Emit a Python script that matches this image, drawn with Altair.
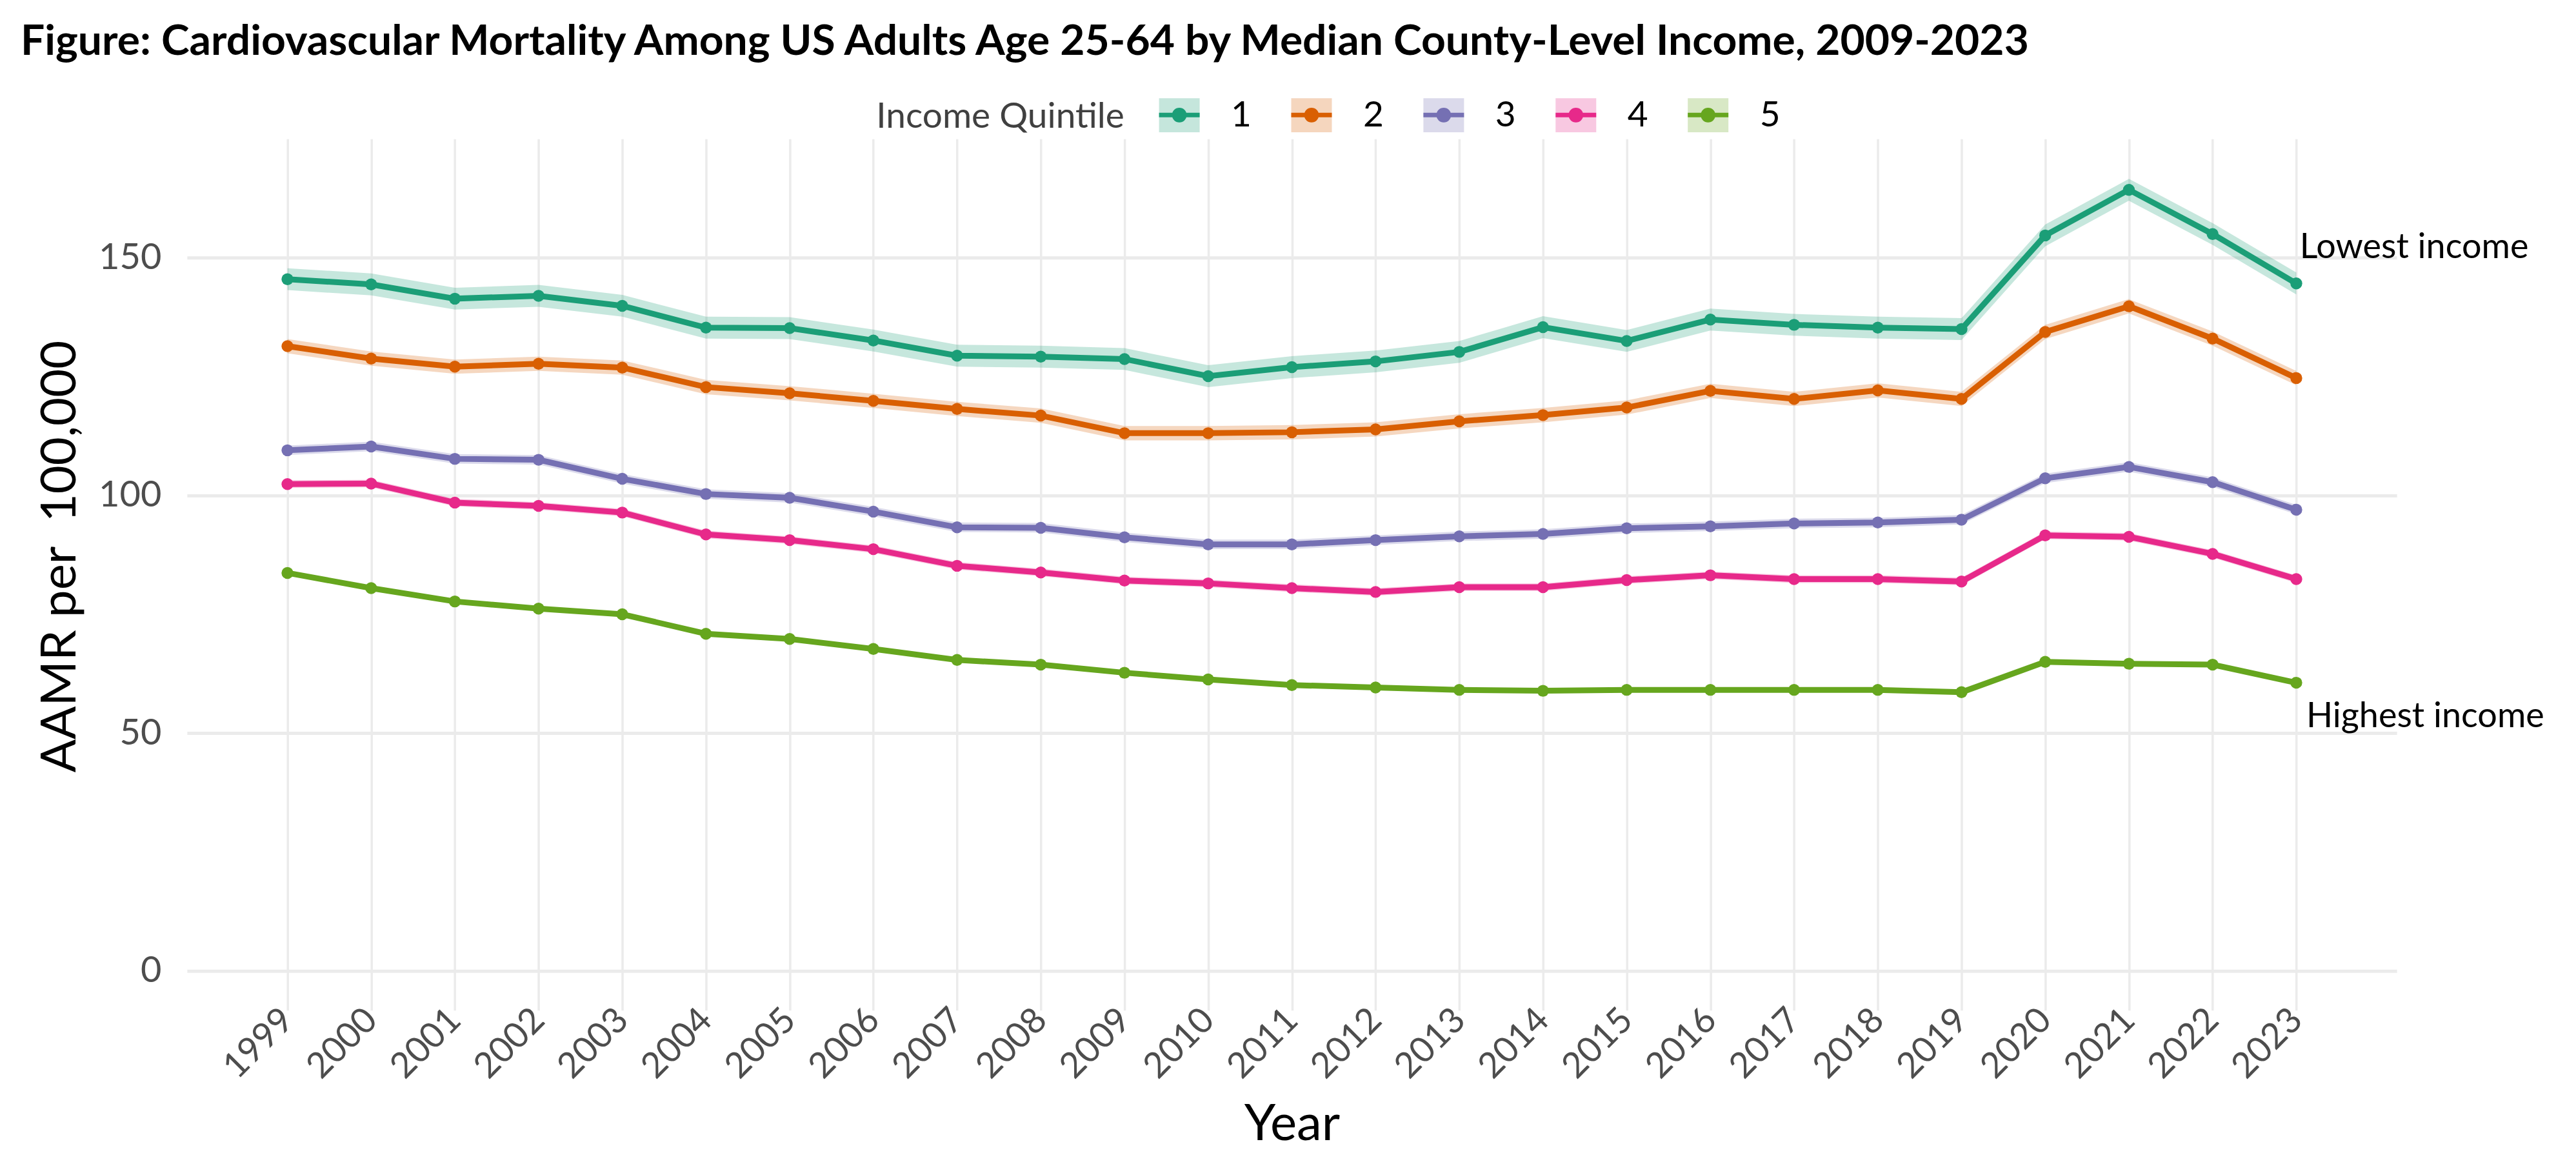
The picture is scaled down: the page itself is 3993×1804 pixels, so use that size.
import altair as alt
import pandas as pd

# ---------------- data ----------------
years = list(range(1999, 2024))
quintiles = ["1", "2", "3", "4", "5"]

q1 = [145.5, 144.4, 141.4, 142.0, 139.9, 135.3, 135.2, 132.6, 129.4, 129.2, 128.7, 125.1, 127.0,
      128.2, 130.2, 135.4, 132.5, 137.0, 135.9, 135.3, 135.0, 154.7, 164.3, 155.0, 144.6]
q2 = [131.4, 128.8, 127.1, 127.7, 126.9, 122.8, 121.5, 119.9, 118.2, 116.8, 113.1, 113.1, 113.3,
      113.9, 115.6, 116.9, 118.5, 122.0, 120.3, 122.1, 120.3, 134.4, 139.8, 133.0, 124.7]
q3 = [109.5, 110.3, 107.7, 107.5, 103.5, 100.3, 99.5, 96.6, 93.3, 93.2, 91.2, 89.7, 89.7,
      90.6, 91.4, 91.9, 93.1, 93.5, 94.1, 94.3, 94.9, 103.6, 106.0, 102.8, 97.0]
q4 = [102.4, 102.5, 98.5, 97.8, 96.4, 91.8, 90.6, 88.7, 85.2, 83.8, 82.1, 81.5, 80.5,
      79.7, 80.7, 80.7, 82.2, 83.2, 82.4, 82.4, 81.9, 91.6, 91.3, 87.7, 82.4]
q5 = [83.7, 80.5, 77.7, 76.2, 75.0, 70.9, 69.8, 67.7, 65.4, 64.4, 62.7, 61.3, 60.1,
      59.6, 59.1, 58.9, 59.1, 59.1, 59.1, 59.1, 58.6, 65.0, 64.6, 64.4, 60.6]

ci_half = {"1": 2.3, "2": 1.5, "3": 1.0, "4": 0.8, "5": 0.5}

colors = ["#1B9E77", "#D95F02", "#7570B3", "#E7298A", "#66A61E"]

ann_labels = ["Lowest income", "Highest income"]
ann_x = [2023.04, 2023.12]
ann_y = [150.0, 51.3]

title_text = ("Figure: Cardiovascular Mortality Among US Adults Age 25-64 by Median "
              "County-Level Income, 2009-2023")

# ---------------- tables ----------------
series = {"1": q1, "2": q2, "3": q3, "4": q4, "5": q5}
rows = []
for q in quintiles:
    for yr, v in zip(years, series[q]):
        rows.append({"Year": yr, "AAMR": v, "Quintile": q, "QuintileLine": q,
                     "lo": v - ci_half[q], "hi": v + ci_half[q]})
df = pd.DataFrame(rows)
ann = pd.DataFrame({"Year": ann_x, "AAMR": ann_y, "label": ann_labels})

FONT = "Lato"
W, H = 3427, 1351

xscale = alt.Scale(domain=[1997.8, 2024.2], nice=False, zero=False)
yscale = alt.Scale(domain=[-8.3, 175], nice=False, zero=False)
cscale = alt.Scale(domain=quintiles, range=colors)

xaxis = alt.Axis(values=years, format="d", labelAngle=-45, labelAlign="right",
                 labelBaseline="middle", labelPadding=6, labelFontSize=55,
                 labelColor="#4d4d4d", labelFont=FONT, domain=False, ticks=False,
                 grid=True, gridColor="#ebebeb", gridWidth=3.5,
                 title="Year", titleFontSize=78, titleFont=FONT,
                 titleFontWeight="normal", titleColor="black",
                 titleBaseline="alphabetic", titleY=201, labelOverlap=False)
yaxis = alt.Axis(values=[0, 50, 100, 150], labelFontSize=56, labelColor="#4d4d4d",
                 labelFont=FONT, labelPadding=40, domain=False, ticks=False,
                 grid=True, gridColor="#ebebeb", gridWidth=5,
                 title="AAMR per\u00a0 100,000", titleFontSize=76, titleFont=FONT,
                 titleFontWeight="normal", titleColor="black",
                 titleBaseline="alphabetic", titleX=-173, titleY=647, titleAngle=-90)

LEG_X, LEG_Y = 1069, -72
leg_common = dict(orient="none", legendX=LEG_X, legendY=LEG_Y, direction="horizontal",
                  title="Income Quintile", titleOrient="left", titleFontSize=55,
                  titleFont=FONT, titleFontWeight="normal", titleColor="#404040",
                  titlePadding=50, titleBaseline="middle", titleLimit=2000,
                  labelFontSize=55, labelFont=FONT, labelColor="black",
                  labelOffset=45, columnPadding=47, symbolSize=3969,
                  symbolStrokeWidth=7)

rect_path = "M-1,-0.84H1V0.84H-1Z"
key_path = ("M-1,0H1 "
            "M0.25,0A0.25,0.25 0 1,1 -0.25,0A0.25,0.25 0 1,1 0.25,0Z "
            "M0.111,0A0.111,0.111 0 1,1 -0.111,0A0.111,0.111 0 1,1 0.111,0Z")

base = alt.Chart(df)

band = base.mark_area(opacity=0.25).encode(
    x=alt.X("Year:Q", scale=xscale, axis=xaxis),
    y=alt.Y("lo:Q", scale=yscale, axis=yaxis),
    y2="hi:Q",
    fill=alt.Fill("Quintile:N", scale=cscale,
                  legend=alt.Legend(symbolType=rect_path, symbolOpacity=0.25,
                                    symbolStrokeColor="transparent", **leg_common)),
)

line = base.mark_line(strokeWidth=9).encode(
    x="Year:Q",
    y="AAMR:Q",
    stroke=alt.Stroke("QuintileLine:N", scale=cscale,
                      legend=alt.Legend(symbolType=key_path,
                                        symbolFillColor="transparent",
                                        labelOpacity=0, titleOpacity=0, **leg_common)),
)

pts = base.mark_circle(size=340, opacity=1).encode(
    x="Year:Q",
    y="AAMR:Q",
    color=alt.Color("Quintile:N", scale=cscale, legend=None),
)

text = alt.Chart(ann).mark_text(align="left", baseline="alphabetic", font=FONT,
                                fontSize=54, color="black").encode(
    x="Year:Q", y="AAMR:Q", text="label:N")

chart = alt.layer(band, line, pts, text).resolve_scale(
    fill="independent", stroke="independent", color="independent"
).resolve_legend(
    fill="independent", stroke="independent"
).properties(
    width=W, height=H,
    title=alt.Title(title_text, anchor="start", frame="group", font=FONT,
                    fontSize=66, fontWeight="bold", color="black", dx=-258,
                    baseline="alphabetic", offset=-8),
    autosize=alt.AutoSizeParams(type="none"),
    padding={"left": 282, "top": 207, "right": 270, "bottom": 230},
    background="white",
).configure_view(stroke=None)

chart.save("out.html", embed_options={"renderer": "svg", "actions": False})
